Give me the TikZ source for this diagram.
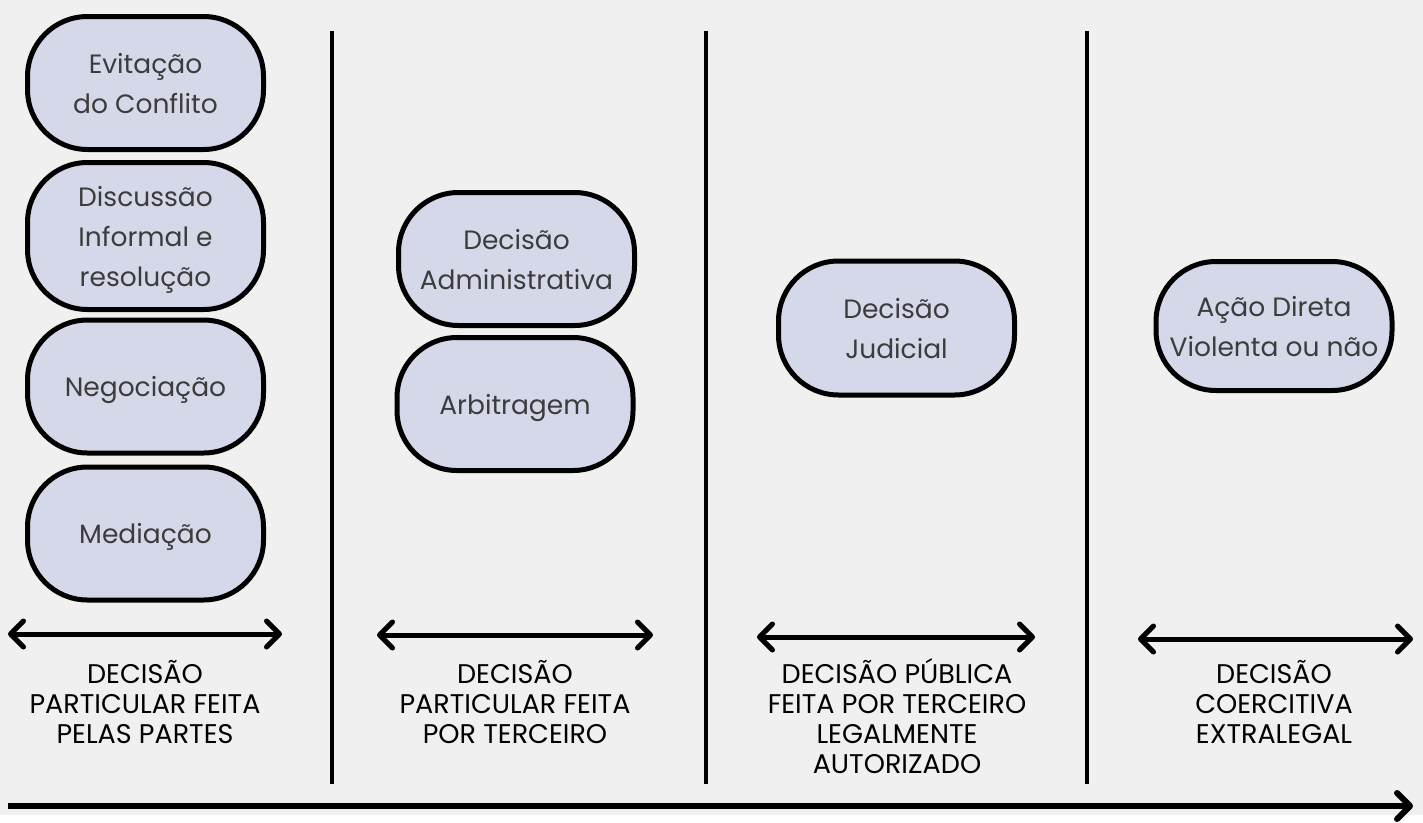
\documentclass[tikz,border=0pt]{standalone}
\usepackage{fontspec}
\setmainfont{Poppins}
\usetikzlibrary{arrows.meta}
\definecolor{boxfill}{RGB}{213,216,233}
\definecolor{boxtext}{RGB}{60,60,60}
\definecolor{paper}{RGB}{240,240,240}

\begin{document}
\begin{tikzpicture}[x=1pt, y=-1pt]
      \tikzstyle{every node}=[inner sep=0pt]
      \tikzstyle{etapa}=[draw=black, line width=5pt, fill=boxfill, rounded corners=60pt, minimum width=236pt, minimum height=133pt, text depth=0pt, text=boxtext, align=center, font=\fontsize{26.5}{40}\selectfont]
      \tikzstyle{tipo}=[align=center, anchor=base, font=\fontsize{27}{30}\selectfont]
      \tikzstyle{seta}=[{Straight Barb[length=13pt,width=26pt,round]}-{Straight Barb[length=13pt,width=26pt,round]}, line width=5pt]
      \fill[paper] (0,0) rectangle (1423,815);
      % separators
      \foreach \x in {332,706,1087}
        \draw[line width=4pt] (\x,31) -- (\x,784);
      % first column
      \node [etapa] (evit) at (145.5,83) {Evitação\\do Conflito};
      \node [etapa, minimum height=147pt] (disc) at (145.5,236) {Discussão\\Informal e\\resolução};
      \node [etapa] (nego) at (145.5,386.5) {Negociação};
      \node [etapa] (medi) at (145.5,533.5) {Mediação};
      % second column
      \node [etapa] (adm) at (516.5,259) {Decisão\\Administrativa};
      \node [etapa] (arb) at (515,404) {Arbitragem};
      % third and fourth
      \node [etapa, minimum height=134pt] (jud) at (896.5,328) {Decisão\\Judicial};
      \node [etapa, minimum height=129pt] (acao) at (1274,326) {Ação Direta\\Violenta ou não};
      % arrows and labels (base = last line)
      \coordinate (a1) at (8,634);   \coordinate (b1) at (282,634);
      \coordinate (a2) at (377,635); \coordinate (b2) at (653,635);
      \coordinate (a3) at (757,637); \coordinate (b3) at (1035,637);
      \coordinate (a4) at (1138,639); \coordinate (b4) at (1413,639);
      \draw[seta] (a1) -- (b1);
      \draw[seta] (a2) -- (b2);
      \draw[seta] (a3) -- (b3);
      \draw[seta] (a4) -- (b4);
      \node [tipo] (t1) at (145,743) {DECISÃO\\PARTICULAR FEITA\\PELAS PARTES};
      \node [tipo] (t2) at (515,743) {DECISÃO\\PARTICULAR FEITA\\POR TERCEIRO};
      \node [tipo] (t3) at (897,773) {DECISÃO PÚBLICA\\FEITA POR TERCEIRO\\LEGALMENTE\\AUTORIZADO};
      \node [tipo] (t4) at (1274,743) {DECISÃO\\COERCITIVA\\EXTRALEGAL};
      % time axis
      \coordinate (e0) at (8,806);
      \coordinate (e1) at (1413,806);
      \draw[-{Straight Barb[length=13pt,width=26pt,round]}, line width=6pt] (e0) -- (e1);
    \end{tikzpicture}
\end{document}
